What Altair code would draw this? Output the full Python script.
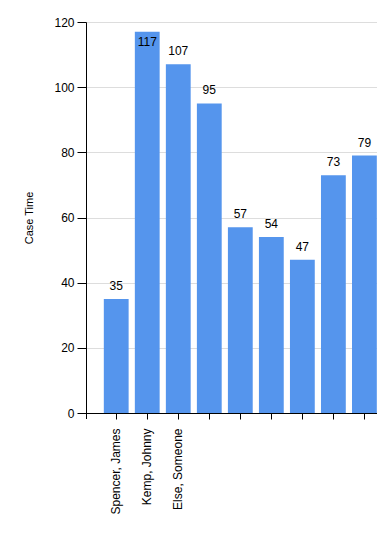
import json
import altair as alt
import pandas as pd

names = ["Spencer, James", "Kemp, Johnny", "Else, Someone", "", "", "", "", "", ""]
values = [35, 117, 107, 95, 57, 54, 47, 73, 79]
y_ticks = [0, 20, 40, 60, 80, 100, 120]

df = pd.DataFrame({"idx": list(range(len(values))), "name": names, "value": values})

FONT = "Liberation Sans"
BAR = "#5595ED"

label_expr = json.dumps(names) + "[datum.value]"

x_enc = alt.X(
    "idx:O",
    scale=alt.Scale(paddingInner=0.2, paddingOuter=0.29, align=0.99),
    axis=alt.Axis(
        title=None,
        labelExpr=label_expr,
        labelAngle=-90,
        labelPadding=9,
        labelFontSize=12,
        labelFont=FONT,
        labelColor="#000000",
        tickSize=6,
        tickColor="#000000",
        domainColor="#000000",
        grid=False,
    ),
)
y_enc = alt.Y(
    "value:Q",
    scale=alt.Scale(domain=[0, 120], nice=False),
    axis=alt.Axis(
        title="Case Time",
        titleFont=FONT,
        titleFontSize=11,
        titleFontWeight="normal",
        titleColor="#000000",
        titlePadding=19,
        values=y_ticks,
        labelFont=FONT,
        labelFontSize=12,
        labelColor="#000000",
        labelPadding=3,
        tickSize=9,
        tickColor="#000000",
        domainColor="#000000",
        grid=True,
        gridColor="#dddddd",
    ),
)

base = alt.Chart(df)

bars = base.mark_bar(color=BAR).encode(x=x_enc, y=y_enc)

labels_above = base.transform_filter("datum.value < 112").mark_text(
    font=FONT, fontSize=12, color="#000000", baseline="alphabetic", dy=-9
).encode(x=alt.X("idx:O"), y=alt.Y("value:Q"), text=alt.Text("value:Q"))

labels_inside = base.transform_filter("datum.value >= 112").mark_text(
    font=FONT, fontSize=12, color="#000000", baseline="alphabetic", dy=14
).encode(x=alt.X("idx:O"), y=alt.Y("value:Q"), text=alt.Text("value:Q"))

stub = base.transform_filter("datum.idx == 0").mark_rule(color="#000000", strokeWidth=1).encode(
    x=alt.value(0.5), y=alt.value(391), y2=alt.value(397)
)

chart = (
    alt.layer(bars, labels_above, labels_inside, stub)
    .properties(
        width=291,
        height=391,
        autosize=alt.AutoSizeParams(type="none"),
        padding={"left": 78, "top": 14, "right": 0, "bottom": 128},
    )
    .configure_view(stroke=None)
    .configure(background="#ffffff")
)

chart.save("out.html", embed_options={"renderer": "svg", "actions": False})
